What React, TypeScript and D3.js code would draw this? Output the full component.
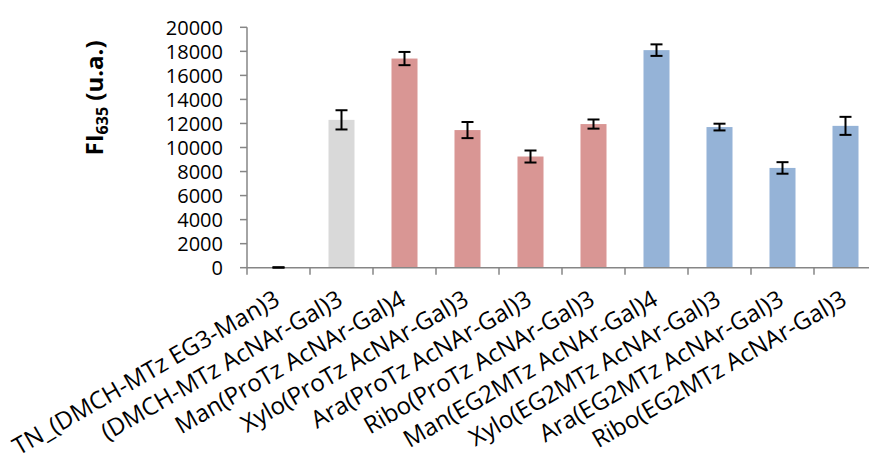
import React from "react";
import * as d3 from "d3";

const categories = [
  "TN_(DMCH-MTz EG3-Man)3",
  "(DMCH-MTz AcNAr-Gal)3",
  "Man(ProTz AcNAr-Gal)4",
  "Xylo(ProTz AcNAr-Gal)3",
  "Ara(ProTz AcNAr-Gal)3",
  "Ribo(ProTz AcNAr-Gal)3",
  "Man(EG2MTz AcNAr-Gal)4",
  "Xylo(EG2MTz AcNAr-Gal)3",
  "Ara(EG2MTz AcNAr-Gal)3",
  "Ribo(EG2MTz AcNAr-Gal)3",
];
const values = [20, 12300, 17400, 11450, 9250, 11950, 18100, 11700, 8300, 11800];
const errors = [20, 800, 550, 670, 500, 380, 480, 280, 480, 750];
const groups = ["none", "gray", "red", "red", "red", "red", "blue", "blue", "blue", "blue"];
const yTicks = [0, 2000, 4000, 6000, 8000, 10000, 12000, 14000, 16000, 18000, 20000];

const colorMap: Record<string, string> = {
  none: "#d9d9d9",
  gray: "#d9d9d9",
  red: "#d99694",
  blue: "#95b3d7",
};

export default function App() {
  const W = 869;
  const H = 457;
  const left = 247;
  const right = 877;
  const top = 27.3;
  const bottom = 267.7;
  const x = d3.scaleBand<string>().domain(categories).range([left, right]).paddingInner(0.587).paddingOuter(0.2935);
  const xc = d3.scaleBand<string>().domain(categories).range([left, right]);
  const y = d3.scaleLinear().domain([0, 20000]).range([bottom, top]);
  const font = "'Open Sans', sans-serif";
  const axisColor = "#868686";
  const capW = 12;

  return (
    <div style={{ position: "absolute", left: 0, top: 0 }}>
      <svg width={W} height={H} style={{ display: "block", background: "#fff" }}>
        {/* bars */}
        {categories.map((c, i) => (
          <rect
            key={"b" + i}
            x={x(c)}
            y={y(values[i])}
            width={x.bandwidth()}
            height={y(0) - y(values[i])}
            fill={colorMap[groups[i]]}
          />
        ))}
        {/* y axis */}
        <line x1={left} x2={left} y1={top} y2={bottom + 7} stroke={axisColor} strokeWidth={1.5} />
        {yTicks.map((t) => (
          <g key={"yt" + t}>
            <line x1={left - 7} x2={left} y1={y(t)} y2={y(t)} stroke={axisColor} strokeWidth={1.5} />
            <text
              x={223}
              y={y(t)}
              textAnchor="end"
              dominantBaseline="central"
              fontFamily={font}
              fontSize={20}
              fill="#000"
            >
              {t}
            </text>
          </g>
        ))}
        {/* x axis */}
        <line x1={left} x2={right} y1={bottom} y2={bottom} stroke={axisColor} strokeWidth={1.5} />
        {categories.map((c, i) => (
          <line
            key={"xt" + i}
            x1={(xc(c) as number) + xc.bandwidth()}
            x2={(xc(c) as number) + xc.bandwidth()}
            y1={bottom}
            y2={bottom + 7}
            stroke={axisColor}
            strokeWidth={1.5}
          />
        ))}
        {/* error bars */}
        {categories.map((c, i) => {
          const cx = (xc(c) as number) + xc.bandwidth() / 2;
          const y1 = y(values[i] + errors[i]);
          const y2 = y(Math.max(0, values[i] - errors[i]));
          return (
            <g key={"e" + i} stroke="#000" strokeWidth={2}>
              <line x1={cx} x2={cx} y1={y1} y2={y2} />
              <line x1={cx - capW / 2} x2={cx + capW / 2} y1={y1} y2={y1} />
              <line x1={cx - capW / 2} x2={cx + capW / 2} y1={y2} y2={y2} />
            </g>
          );
        })}
        {/* x labels */}
        {categories.map((c, i) => {
          const cx = (xc(c) as number) + xc.bandwidth() / 2 + 3;
          const ty = 304;
          return (
            <text
              key={"xl" + i}
              transform={`translate(${cx},${ty}) rotate(-30)`}
              textAnchor="end"
              fontFamily={font}
              fontSize={24}
              fill="#000"
            >
              {c}
            </text>
          );
        })}
        {/* y title */}
        <text
          transform={`translate(103,98) rotate(-90)`}
          textAnchor="middle"
          fontFamily={font}
          fontSize={24}
          fontWeight="bold"
          fill="#000"
        >
          FI
          <tspan fontSize={16} dy={5}>635</tspan>
          <tspan dy={-5}> (u.a.)</tspan>
        </text>
      </svg>
    </div>
  );
}
